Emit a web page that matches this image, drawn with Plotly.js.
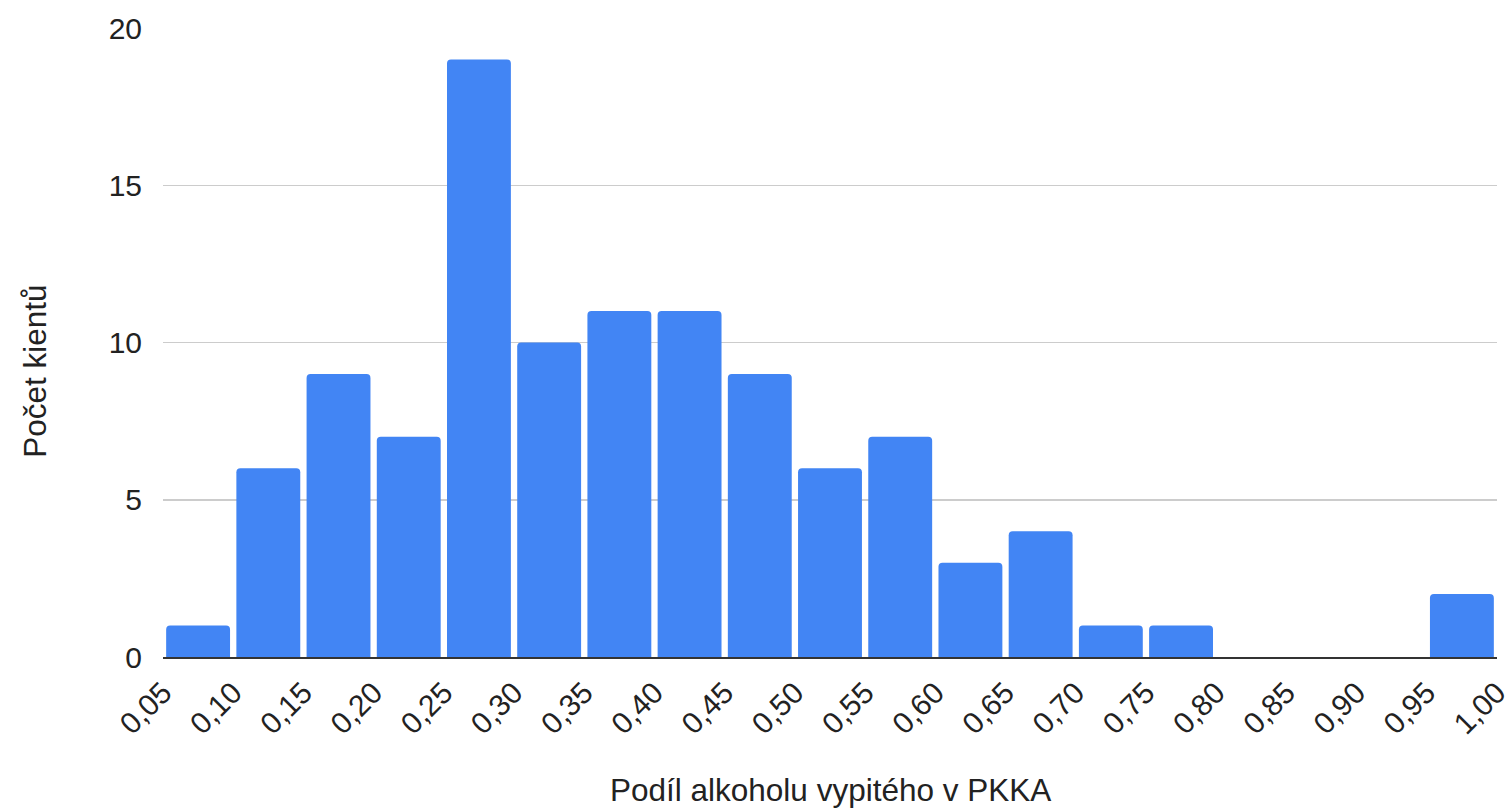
<!DOCTYPE html>
<html>
<head>
<meta charset="utf-8">
<script src="https://cdn.plot.ly/plotly-3.0.1.min.js"></script>
<style>html,body{margin:0;padding:0;background:#fff;}#chart{width:1512px;height:808px;}</style>
</head>
<body>
<div id="chart"></div>
<script>
// Bin lower edges (bin width 0.05)
const binStarts = [0.05,0.10,0.15,0.20,0.25,0.30,0.35,0.40,0.45,0.50,0.55,0.60,0.65,0.70,0.75,0.80,0.85,0.90,0.95];
const counts    = [1,6,9,7,19,10,11,11,9,6,7,3,4,1,1,0,0,0,2];
const tickVals  = [0.05,0.10,0.15,0.20,0.25,0.30,0.35,0.40,0.45,0.50,0.55,0.60,0.65,0.70,0.75,0.80,0.85,0.90,0.95,1.00];
const yTickVals = [0,5,10,15,20];
const binWidth = 0.05;
const xTitle = "Podíl alkoholu vypitého v PKKA";
const yTitle = "Počet kientů";

const centers = binStarts.map(s => s + binWidth/2);

const trace = {
  type: 'bar',
  x: centers,
  y: counts,
  marker: {color: '#4285F4', cornerradius: 4},
  hoverinfo: 'x+y'
};

const font = {family: 'Arial, "Liberation Sans", sans-serif', color: '#222'};

const layout = {
  width: 1512, height: 808,
  margin: {l: 163, r: 15, t: 28, b: 151},
  paper_bgcolor: '#fff', plot_bgcolor: '#fff',
  separators: ',.',
  bargap: 0.09,
  showlegend: false,
  font: Object.assign({size: 30}, font),
  xaxis: {
    type: 'linear',
    range: [0.05, 1.00],
    tickmode: 'array',
    tickvals: tickVals,
    tickformat: '.2f',
    tickangle: -45,
    tickfont: Object.assign({size: 30}, font),
    showgrid: false,
    zeroline: false,
    showline: true,
    linecolor: '#333',
    linewidth: 2,
    ticks: 'outside', ticklen: 4, tickcolor: 'rgba(0,0,0,0)',
    automargin: false
  },
  yaxis: {
    range: [0, 20],
    tickmode: 'array',
    tickvals: yTickVals,
    tickfont: Object.assign({size: 30}, font),
    showgrid: true,
    gridcolor: '#cccccc',
    gridwidth: 1.5,
    zeroline: false,
    showline: false,
    ticks: 'outside', ticklen: 14, tickcolor: 'rgba(0,0,0,0)',
    automargin: false
  },
  annotations: [
    {text: xTitle, xref: 'paper', yref: 'paper', x: 0.5, y: -0.211, xanchor: 'center', yanchor: 'middle',
     showarrow: false, font: Object.assign({size: 31.5}, font)},
    {text: yTitle, xref: 'paper', yref: 'paper', x: -0.096, y: 0.455, xanchor: 'center', yanchor: 'middle',
     textangle: -90, showarrow: false, font: Object.assign({size: 31.5}, font)}
  ]
};

Plotly.newPlot('chart', [trace], layout, {displayModeBar: false, staticPlot: true});
</script>
</body>
</html>
